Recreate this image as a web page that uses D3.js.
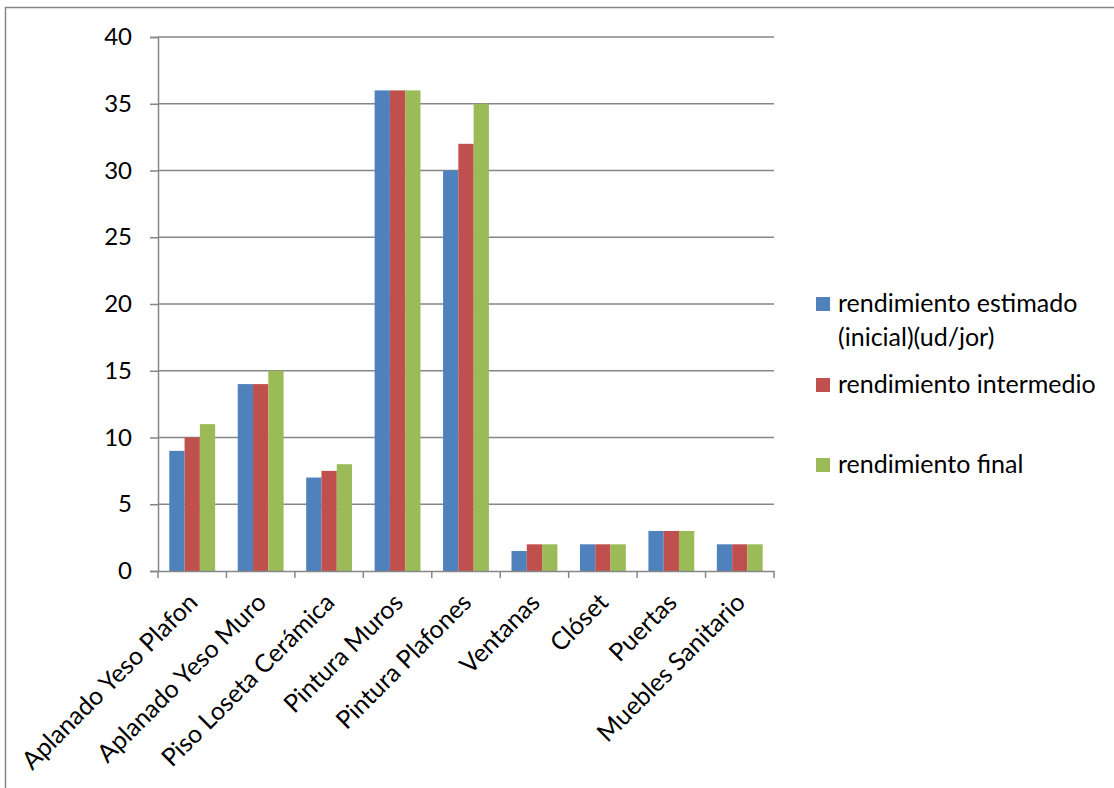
<!DOCTYPE html>
<html>
<head>
<meta charset="utf-8">
<script src="https://cdn.jsdelivr.net/npm/d3@7"></script>
<style>
  body { margin: 0; background: #fff; }
  text { font-family: Lato, "Open Sans", sans-serif; fill: #000; }
</style>
</head>
<body>
<div id="wrapper"></div>
<script>
// data
const categories = ["Aplanado Yeso Plafon", "Aplanado Yeso Muro", "Piso Loseta Cerámica",
  "Pintura Muros", "Pintura Plafones", "Ventanas", "Clóset", "Puertas", "Muebles Sanitario"]
const seriesNames = ["rendimiento estimado (inicial)(ud/jor)", "rendimiento intermedio", "rendimiento final"]
const inicial = [9, 14, 7, 36, 30, 1.5, 2, 3, 2]
const intermedio = [10, 14, 7.5, 36, 32, 2, 2, 3, 2]
const final = [11, 15, 8, 36, 35, 2, 2, 3, 2]
const yTicks = [0, 5, 10, 15, 20, 25, 30, 35, 40]
const colors = ["#4F81BD", "#C0504D", "#9BBB59"]

const series = [inicial, intermedio, final]

const dimensions = {
  width: 1114,
  height: 788,
  margin: { top: 37, right: 340, bottom: 217, left: 158 }
}
dimensions.boundedWidth = dimensions.width - dimensions.margin.left - dimensions.margin.right
dimensions.boundedHeight = dimensions.height - dimensions.margin.top - dimensions.margin.bottom

const wrapper = d3.select("#wrapper").append("svg")
    .attr("width", dimensions.width)
    .attr("height", dimensions.height)

// outer chart border
wrapper.append("rect")
    .attr("x", 5.5).attr("y", 7.5)
    .attr("width", 1114).attr("height", 790)
    .attr("fill", "none")
    .attr("stroke", "#868686")
    .attr("stroke-width", 1.5)

const bounds = wrapper.append("g")
    .attr("transform", `translate(${dimensions.margin.left},${dimensions.margin.top})`)

// scales
const xScale = d3.scaleBand()
    .domain(categories)
    .range([0, dimensions.boundedWidth])

const innerScale = d3.scaleBand()
    .domain(d3.range(series.length))
    .range([xScale.bandwidth() * 0.165, xScale.bandwidth() * 0.835])

const yScale = d3.scaleLinear()
    .domain([0, 40])
    .range([dimensions.boundedHeight, 0])

// gridlines
bounds.append("g")
  .selectAll("line")
  .data(yTicks.filter(d => d > 0))
  .join("line")
    .attr("x1", 0).attr("x2", dimensions.boundedWidth)
    .attr("y1", d => yScale(d)).attr("y2", d => yScale(d))
    .attr("stroke", "#868686")
    .attr("stroke-width", 1.5)

// bars
bounds.append("g")
  .selectAll("g")
  .data(series)
  .join("g")
    .attr("fill", (d, i) => colors[i])
  .selectAll("rect")
  .data((d, i) => d.map((v, j) => ({ v, j, i })))
  .join("rect")
    .attr("x", d => xScale(categories[d.j]) + innerScale(d.i))
    .attr("width", innerScale.bandwidth())
    .attr("y", d => yScale(d.v))
    .attr("height", d => dimensions.boundedHeight - yScale(d.v))

// y axis
const yAxis = bounds.append("g")
    .call(d3.axisLeft(yScale).tickValues(yTicks).tickSize(8).tickPadding(18))
yAxis.selectAll("line, path").attr("stroke", "#868686").attr("stroke-width", 1.5)
yAxis.selectAll("text").style("font-size", "24px")

// x axis
const xAxis = bounds.append("g")
    .attr("transform", `translate(0,${dimensions.boundedHeight})`)
    .call(d3.axisBottom(xScale).tickSize(0).tickSizeOuter(0))
xAxis.select("path").attr("stroke", "#868686").attr("stroke-width", 1.5)
xAxis.selectAll(".tick line").remove()
bounds.append("g")
  .selectAll("line")
  .data(d3.range(categories.length + 1))
  .join("line")
    .attr("x1", d => d * xScale.step()).attr("x2", d => d * xScale.step())
    .attr("y1", dimensions.boundedHeight).attr("y2", dimensions.boundedHeight + 7)
    .attr("stroke", "#868686")
    .attr("stroke-width", 1.5)
xAxis.selectAll("text")
    .style("font-size", "25px")
    .attr("text-anchor", "end")
    .attr("dy", 0)
    .attr("y", 0)
    .attr("transform", "translate(7,33) rotate(-45)")

// legend
const legendItems = [
  { lines: ["rendimiento estimado", "(inicial)(ud/jor)"], y: 304 },
  { lines: ["rendimiento intermedio"], y: 385 },
  { lines: ["rendimiento final"], y: 465 }
]
const legend = wrapper.append("g")
const item = legend.selectAll("g")
  .data(legendItems)
  .join("g")
    .attr("transform", d => `translate(816,${d.y})`)
item.append("rect")
    .attr("x", 0).attr("y", -7)
    .attr("width", 14).attr("height", 14)
    .attr("fill", (d, i) => colors[i])
item.append("text")
    .attr("x", 22)
    .attr("y", 8)
    .style("font-size", "25px")
  .selectAll("tspan")
  .data(d => d.lines)
  .join("tspan")
    .attr("x", 22)
    .attr("dy", (d, i) => i === 0 ? 0 : 34)
    .text(d => d)
</script>
</body>
</html>
